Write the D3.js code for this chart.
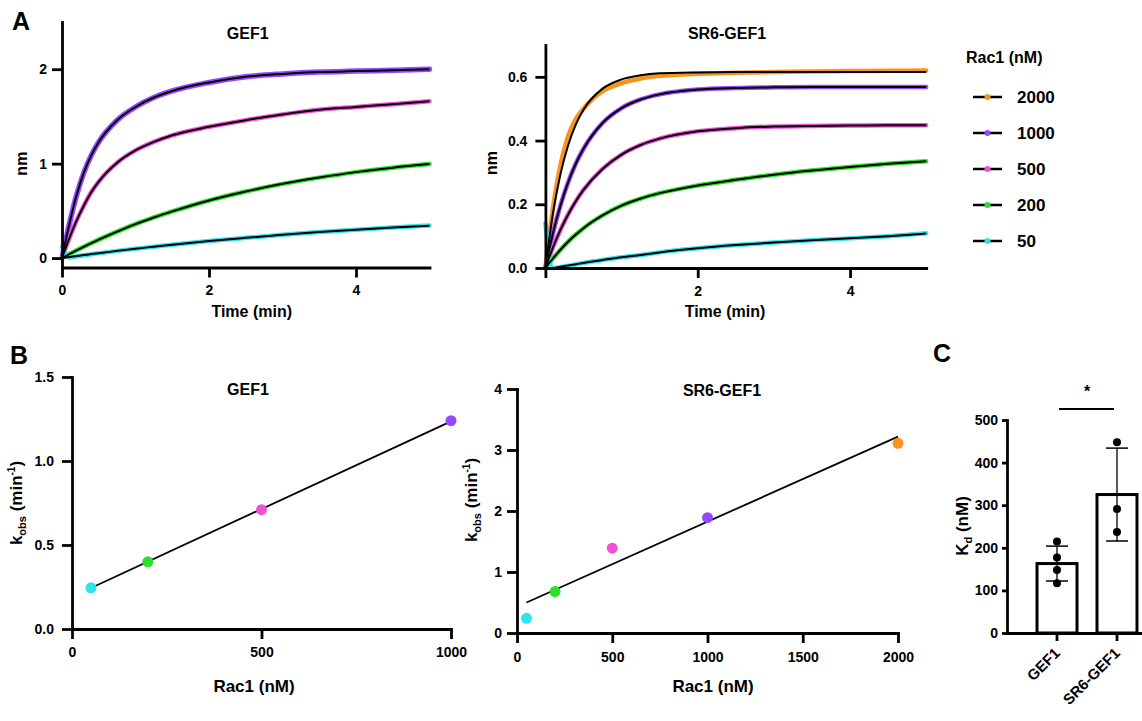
<!DOCTYPE html>
<html>
<head>
<meta charset="utf-8">
<script src="https://cdn.jsdelivr.net/npm/d3@7"></script>
<style>
  html, body { margin: 0; padding: 0; background: #fff; }
  svg { display: block; }
</style>
</head>
<body>
<svg id="fig" width="1142" height="721"></svg>
<script>
// ---------------- DATA ----------------
const timeMin = [0, 0.1, 0.2, 0.3, 0.4, 0.5, 0.75, 1, 1.25, 1.5, 2, 2.5, 3, 3.5, 4, 4.5, 5];
const rac1Conc = [2000, 1000, 500, 200, 50];
const concColors = ["#F7931E", "#9747FF", "#F04FD8", "#2BE02B", "#2FE3F0"];

// Panel A – GEF1 association traces (nm)
const gef1_1000 = [0, 0.36, 0.67, 0.91, 1.09, 1.23, 1.46, 1.60, 1.70, 1.77, 1.86, 1.92, 1.95, 1.97, 1.98, 1.99, 2.00];
const gef1_500  = [0, 0.21, 0.40, 0.56, 0.70, 0.81, 1.01, 1.14, 1.23, 1.30, 1.39, 1.46, 1.52, 1.57, 1.60, 1.63, 1.66];
const gef1_200  = [0, 0.042, 0.082, 0.121, 0.159, 0.195, 0.28, 0.36, 0.43, 0.494, 0.61, 0.705, 0.786, 0.852, 0.91, 0.957, 0.995];
const gef1_50   = [0, 0.011, 0.021, 0.032, 0.042, 0.052, 0.076, 0.099, 0.120, 0.141, 0.180, 0.214, 0.246, 0.275, 0.300, 0.323, 0.343];
const gef1_50_trace = [0.12, 0.006, 0.018, 0.030, 0.041, 0.051, 0.076, 0.099, 0.120, 0.141, 0.180, 0.214, 0.246, 0.275, 0.300, 0.323, 0.345];

// Panel A – SR6-GEF1 association traces (nm)
const sr6_2000_fit   = [0, 0.173, 0.297, 0.386, 0.451, 0.497, 0.563, 0.592, 0.605, 0.611, 0.614, 0.615, 0.615, 0.615, 0.615, 0.615, 0.615];
const sr6_2000_trace = [0, 0.19, 0.325, 0.415, 0.468, 0.50, 0.555, 0.580, 0.595, 0.603, 0.610, 0.613, 0.615, 0.617, 0.618, 0.619, 0.620];
const sr6_1000 = [0, 0.110, 0.198, 0.270, 0.328, 0.374, 0.455, 0.502, 0.529, 0.545, 0.560, 0.565, 0.567, 0.568, 0.568, 0.568, 0.568];
const sr6_500  = [0, 0.065, 0.121, 0.169, 0.210, 0.245, 0.311, 0.356, 0.386, 0.406, 0.429, 0.439, 0.444, 0.446, 0.447, 0.448, 0.448];
const sr6_200  = [0, 0.030, 0.058, 0.083, 0.105, 0.125, 0.165, 0.196, 0.218, 0.235, 0.259, 0.277, 0.293, 0.306, 0.317, 0.327, 0.335];
const sr6_50   = [0, 0, 0.004, 0.008, 0.012, 0.016, 0.025, 0.034, 0.041, 0.049, 0.062, 0.072, 0.080, 0.087, 0.093, 0.100, 0.108];
const sr6_50_trace = [0.14, 0, 0.003, 0.007, 0.011, 0.016, 0.025, 0.034, 0.041, 0.049, 0.062, 0.072, 0.080, 0.087, 0.093, 0.100, 0.109];

// Panel B – kobs vs Rac1
const gef1Conc = [50, 200, 500, 1000];
const gef1Kobs = [0.245, 0.40, 0.71, 1.24];
const gef1FitConc = [50, 1000];
const gef1FitK = [0.244, 1.236];
const sr6Conc = [50, 200, 500, 1000, 2000];
const sr6Kobs = [0.24, 0.68, 1.39, 1.89, 3.11];
const sr6FitConc = [50, 2000];
const sr6FitK = [0.50, 3.22];

// Panel C – Kd
const kdGroups = ["GEF1", "SR6-GEF1"];
const kdMean = [163, 325];
const kdSD = [41, 109];
const kdPointsGEF1 = [215, 177, 148, 117];
const kdPointsSR6 = [448, 291, 237];

// Tick values
const aTimeTicks = [0, 2, 4];
const aGef1YTicks = [0, 1, 2];
const aSr6YTicks = [0, 0.2, 0.4, 0.6];
const bGef1XTicks = [0, 500, 1000];
const bGef1YTicks = [0, 0.5, 1.0, 1.5];
const bSr6XTicks = [0, 500, 1000, 1500, 2000];
const bSr6YTicks = [0, 1, 2, 3, 4];
const cYTicks = [0, 100, 200, 300, 400, 500];

// ---------------- DRAW ----------------
const F = "'Liberation Sans', Arial, Helvetica, sans-serif";
const svg = d3.select("#fig");
svg.append("rect").attr("width", 1142).attr("height", 721).attr("fill", "#fff");
const AX_W = 2.8;

function styleAxis(g, fs) {
  g.attr("font-family", null).attr("font-size", null);
  g.select(".domain").attr("stroke", "#000").attr("stroke-width", AX_W).attr("stroke-linecap", "square");
  g.selectAll(".tick line").attr("stroke", "#000").attr("stroke-width", AX_W);
  g.selectAll(".tick text").attr("font-family", F).attr("font-size", fs)
    .attr("font-weight", "bold").attr("fill", "#000");
}
function text(x, y, str, fs, anchor = "middle") {
  return svg.append("text").attr("x", x).attr("y", y).text(str)
    .attr("font-family", F).attr("font-size", fs).attr("font-weight", "bold")
    .attr("text-anchor", anchor).attr("fill", "#000");
}
function rotLabel(cx, cy, fs, parts) {
  const t = svg.append("text").attr("transform", `translate(${cx},${cy}) rotate(-90)`)
    .attr("font-family", F).attr("font-weight", "bold").attr("font-size", fs)
    .attr("text-anchor", "middle").attr("fill", "#000");
  parts.forEach(p => {
    const s = t.append("tspan").text(p.t);
    if (p.fs) s.attr("font-size", p.fs);
    if (p.dy) s.attr("dy", p.dy);
  });
  return t;
}

// Panel letters
text(12, 30, "A", 25, "start");
text(10, 364, "B", 25, "start");
text(933, 362, "C", 25, "start");

// ---------- Panel A : GEF1 ----------
{
  const x = d3.scaleLinear().domain([0, 5]).range([62, 429.5]);
  const y = d3.scaleLinear().domain([-0.1, 2.5]).range([267.5, 22]);
  const line = d3.line().x(d => x(d[0])).y(d => y(d[1])).curve(d3.curveMonotoneX);
  const series = [
    { v: gef1_1000, tr: gef1_1000, c: concColors[1], w: 5.5 },
    { v: gef1_500, tr: gef1_500, c: concColors[2], w: 4.5 },
    { v: gef1_200, tr: gef1_200, c: concColors[3], w: 4.5 },
    { v: gef1_50, tr: gef1_50_trace, c: concColors[4], w: 4.5 },
  ];
  series.forEach(s => {
    svg.append("path").datum(timeMin.map((t, i) => [t, s.tr[i]])).attr("d", line)
      .attr("fill", "none").attr("stroke", s.c).attr("stroke-width", s.w).attr("stroke-linecap", "round");
  });
  series.forEach(s => {
    svg.append("path").datum(timeMin.map((t, i) => [t, s.v[i]])).attr("d", line)
      .attr("fill", "none").attr("stroke", "#000").attr("stroke-width", 2);
  });
  const gx = svg.append("g").attr("transform", `translate(0,${y(-0.1)})`)
    .call(d3.axisBottom(x).tickValues(aTimeTicks).tickFormat(d3.format("d")).tickSize(10).tickPadding(8).tickSizeOuter(0));
  styleAxis(gx, 14);
  const gy = svg.append("g").attr("transform", `translate(${x(0)},0)`)
    .call(d3.axisLeft(y).tickValues(aGef1YTicks).tickFormat(d3.format("d")).tickSize(10).tickPadding(5).tickSizeOuter(0));
  styleAxis(gy, 14);
  text((x.range()[0] + x.range()[1]) / 2 + 2, 39, "GEF1", 16);
  text((x.range()[0] + x.range()[1]) / 2 + 6, 317, "Time (min)", 16);
  rotLabel(27, y(1), 16, [{ t: "nm" }]);
}

// ---------- Panel A : SR6-GEF1 ----------
{
  const x = d3.scaleLinear().domain([0, 5]).range([545.4, 926.2]);
  const y = d3.scaleLinear().domain([0, 0.7]).range([268, 45]);
  const line = d3.line().x(d => x(d[0])).y(d => y(d[1])).curve(d3.curveMonotoneX);
  const series = [
    { v: sr6_2000_fit, tr: sr6_2000_trace, c: concColors[0] },
    { v: sr6_1000, tr: sr6_1000, c: concColors[1] },
    { v: sr6_500, tr: sr6_500, c: concColors[2] },
    { v: sr6_200, tr: sr6_200, c: concColors[3] },
    { v: sr6_50, tr: sr6_50_trace, c: concColors[4] },
  ];
  series.forEach(s => {
    svg.append("path").datum(timeMin.map((t, i) => [t, s.tr[i]])).attr("d", line)
      .attr("fill", "none").attr("stroke", s.c).attr("stroke-width", 4.5).attr("stroke-linecap", "round");
  });
  series.forEach(s => {
    svg.append("path").datum(timeMin.map((t, i) => [t, s.v[i]])).attr("d", line)
      .attr("fill", "none").attr("stroke", "#000").attr("stroke-width", 2);
  });
  const gx = svg.append("g").attr("transform", `translate(0,${y(0)})`)
    .call(d3.axisBottom(x).tickValues(aTimeTicks).tickFormat(d => d === 0 ? "" : d3.format("d")(d)).tickSize(10).tickPadding(8).tickSizeOuter(0));
  styleAxis(gx, 14);
  const gy = svg.append("g").attr("transform", `translate(${x(0)},0)`)
    .call(d3.axisLeft(y).tickValues(aSr6YTicks).tickFormat(d3.format(".1f")).tickSize(10).tickPadding(8).tickSizeOuter(0));
  styleAxis(gy, 14);
  text(727, 39, "SR6-GEF1", 16);
  text(725, 317, "Time (min)", 16);
  rotLabel(497, 163, 16, [{ t: "nm" }]);

  // legend
  text(966, 63, "Rac1 (nM)", 16, "start");
  rac1Conc.forEach((c, i) => {
    const ly = 97 + i * 36;
    svg.append("line").attr("x1", 973).attr("x2", 1002).attr("y1", ly).attr("y2", ly)
      .attr("stroke", "#000").attr("stroke-width", 2.5);
    svg.append("circle").attr("cx", 987.5).attr("cy", ly).attr("r", 3).attr("fill", concColors[i]);
    text(1017, ly + 6, String(c), 17, "start");
  });
}

// ---------- Panel B : GEF1 ----------
{
  const x = d3.scaleLinear().domain([0, 1000]).range([72, 451]);
  const y = d3.scaleLinear().domain([0, 1.5]).range([629, 377]);
  svg.append("line").attr("x1", x(gef1FitConc[0])).attr("x2", x(gef1FitConc[1]))
    .attr("y1", y(gef1FitK[0])).attr("y2", y(gef1FitK[1])).attr("stroke", "#000").attr("stroke-width", 1.8);
  svg.selectAll(null).data(gef1Conc).enter().append("circle")
    .attr("cx", d => x(d)).attr("cy", (d, i) => y(gef1Kobs[i])).attr("r", 5.5)
    .attr("fill", (d, i) => concColors[rac1Conc.indexOf(d)]);
  const gx = svg.append("g").attr("transform", `translate(0,${y(0)})`)
    .call(d3.axisBottom(x).tickValues(bGef1XTicks).tickFormat(d3.format("d")).tickSize(10).tickPadding(8).tickSizeOuter(0));
  styleAxis(gx, 14);
  const gy = svg.append("g").attr("transform", `translate(${x(0)},0)`)
    .call(d3.axisLeft(y).tickValues(bGef1YTicks).tickFormat(d3.format(".1f")).tickSize(10).tickPadding(8).tickSizeOuter(0));
  styleAxis(gy, 14);
  text(248, 395, "GEF1", 16);
  text(254, 692, "Rac1 (nM)", 17);
  rotLabel(22, 503, 17, [{ t: "k" }, { t: "obs", fs: 11, dy: 4 }, { t: " (min", dy: -4 }, { t: "-1", fs: 10, dy: -7 }, { t: ")", dy: 7 }]);
}

// ---------- Panel B : SR6-GEF1 ----------
{
  const x = d3.scaleLinear().domain([0, 2000]).range([517, 898]);
  const y = d3.scaleLinear().domain([0, 4]).range([633, 389]);
  svg.append("line").attr("x1", x(sr6FitConc[0])).attr("x2", x(sr6FitConc[1]))
    .attr("y1", y(sr6FitK[0])).attr("y2", y(sr6FitK[1])).attr("stroke", "#000").attr("stroke-width", 1.8);
  svg.selectAll(null).data(sr6Conc).enter().append("circle")
    .attr("cx", d => x(d)).attr("cy", (d, i) => y(sr6Kobs[i])).attr("r", 5.5)
    .attr("fill", (d, i) => concColors[rac1Conc.indexOf(d)]);
  const gx = svg.append("g").attr("transform", `translate(0,${y(0)})`)
    .call(d3.axisBottom(x).tickValues(bSr6XTicks).tickFormat(d3.format("d")).tickSize(10).tickPadding(9).tickSizeOuter(0));
  styleAxis(gx, 14);
  const gy = svg.append("g").attr("transform", `translate(${x(0)},0)`)
    .call(d3.axisLeft(y).tickValues(bSr6YTicks).tickFormat(d3.format("d")).tickSize(10).tickPadding(5).tickSizeOuter(0));
  styleAxis(gy, 14);
  text(722, 396, "SR6-GEF1", 16);
  text(713, 692, "Rac1 (nM)", 17);
  rotLabel(477, 500, 17, [{ t: "k" }, { t: "obs", fs: 11, dy: 4 }, { t: " (min", dy: -4 }, { t: "-1", fs: 10, dy: -7 }, { t: ")", dy: 7 }]);
}

// ---------- Panel C ----------
{
  const x = d3.scaleBand().domain(kdGroups).range([1007, 1167]).paddingInner(1 / 3).paddingOuter(0.5);
  const y = d3.scaleLinear().domain([0, 500]).range([633, 420]);
  const cx = g => x(g) + x.bandwidth() / 2;
  svg.selectAll(null).data(kdGroups).enter().append("rect")
    .attr("x", d => x(d)).attr("width", x.bandwidth())
    .attr("y", (d, i) => y(kdMean[i])).attr("height", (d, i) => y(0) - y(kdMean[i]))
    .attr("fill", "#fff").attr("stroke", "#000").attr("stroke-width", 3);
  kdGroups.forEach((g, i) => {
    const c = cx(g);
    const lo = kdMean[i] - kdSD[i], hi = kdMean[i] + kdSD[i];
    svg.append("line").attr("x1", c).attr("x2", c).attr("y1", y(lo)).attr("y2", y(hi)).attr("stroke", "#000").attr("stroke-width", 1.3);
    [lo, hi].forEach(v => svg.append("line").attr("x1", c - 11).attr("x2", c + 11).attr("y1", y(v)).attr("y2", y(v)).attr("stroke", "#000").attr("stroke-width", 1.5));
    const pts = i === 0 ? kdPointsGEF1 : kdPointsSR6;
    pts.forEach(p => svg.append("circle").attr("cx", c).attr("cy", y(p)).attr("r", 4).attr("fill", "#000"));
  });
  const gx = svg.append("g").attr("transform", `translate(0,${y(0)})`)
    .call(d3.axisBottom(x).tickSize(8).tickFormat("").tickSizeOuter(0));
  styleAxis(gx, 14);
  const gy = svg.append("g").attr("transform", `translate(${x.range()[0]},0)`)
    .call(d3.axisLeft(y).tickValues(cYTicks).tickFormat(d3.format("d")).tickSize(5).tickPadding(4).tickSizeOuter(0));
  styleAxis(gy, 14);
  kdGroups.forEach(g => {
    svg.append("text").attr("transform", `translate(${cx(g) + 4},654) rotate(-45)`)
      .attr("text-anchor", "end").attr("font-family", F).attr("font-weight", "bold")
      .attr("font-size", 15).attr("fill", "#000").text(g);
  });
  // significance
  svg.append("line").attr("x1", cx(kdGroups[0]) + 2).attr("x2", cx(kdGroups[1]) - 3)
    .attr("y1", 409).attr("y2", 409).attr("stroke", "#000").attr("stroke-width", 2);
  text((cx(kdGroups[0]) + cx(kdGroups[1])) / 2, 397, "*", 16);
  rotLabel(968, 526, 17, [{ t: "K" }, { t: "d", fs: 11, dy: 4 }, { t: " (nM)", dy: -4 }]);
}
</script>
</body>
</html>
